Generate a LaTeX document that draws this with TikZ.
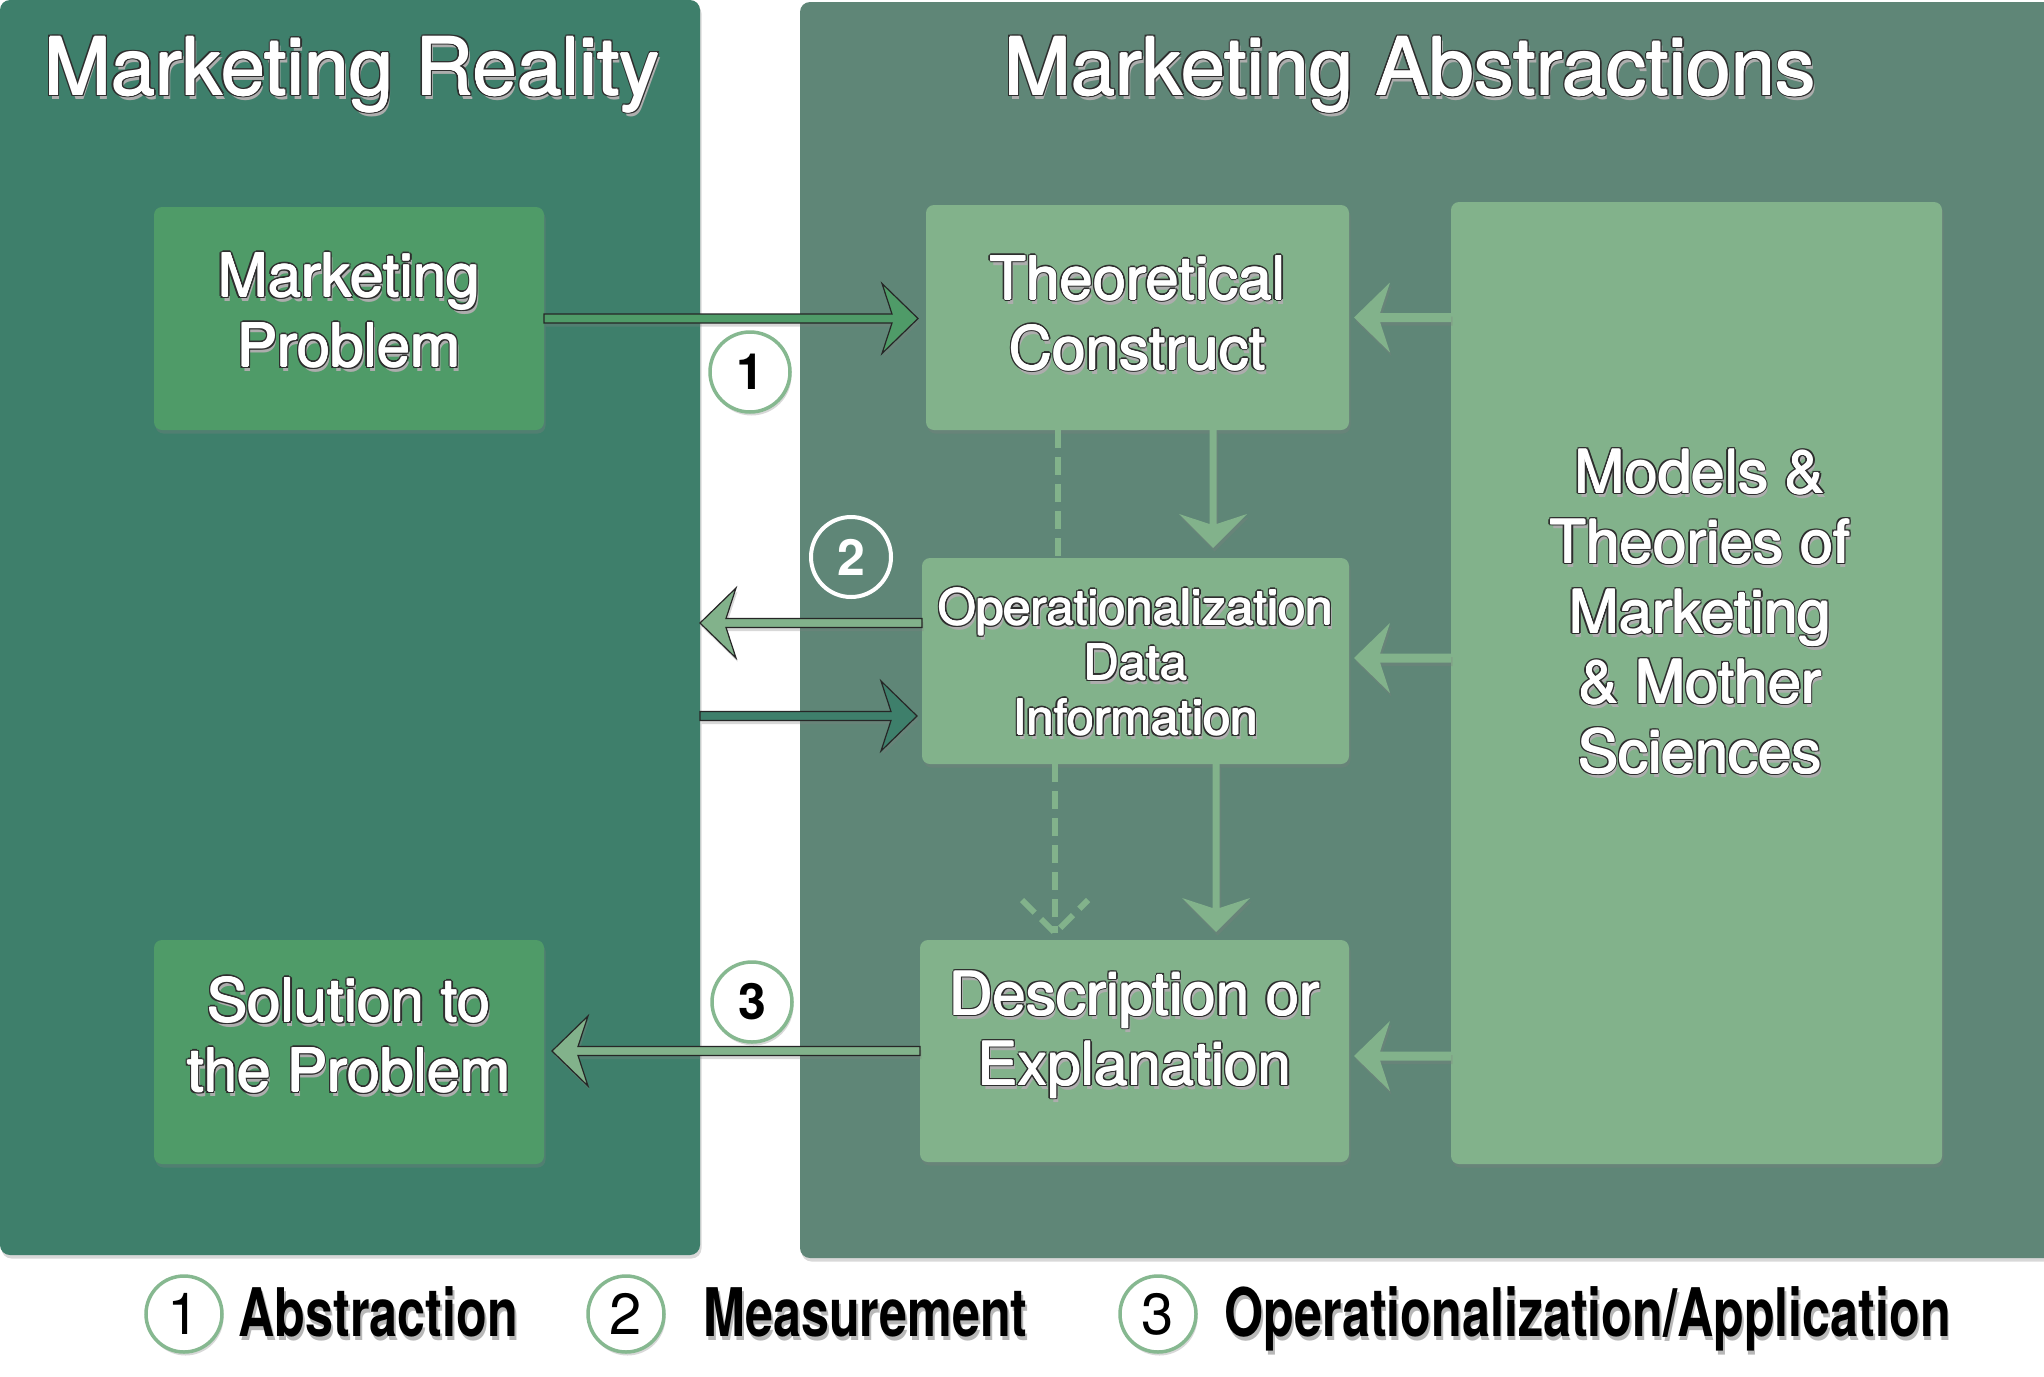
\documentclass[tikz,border=0pt]{standalone}
\usepackage{fontspec}
\usepackage{graphicx}
\setmainfont{TeX Gyre Heros}
\usetikzlibrary{calc,shadows}
\definecolor{leftpanel}{HTML}{3E7F6B}
\definecolor{rightpanel}{HTML}{5F8677}
\definecolor{darkbox}{HTML}{4F9B68}
\definecolor{lightbox}{HTML}{82B28B}
\definecolor{ringgreen}{HTML}{86B890}
\definecolor{txtline}{HTML}{2E2E2E}
% one offset copy of a text: #1 x, #2 y, #3 colour, #4 text
\newcommand\cpy[4]{\rlap{\kern#1\raisebox{#2}{\textcolor{#3}{#4}}}}
% white text, slightly emboldened, with dark outline and soft shadow
\newcommand\wt[1]{\leavevmode
 \cpy{2.5pt}{-4.5pt}{black!32}{#1}%
 \cpy{-2.1pt}{0pt}{txtline}{#1}\cpy{2.1pt}{0pt}{txtline}{#1}%
 \cpy{0pt}{1.9pt}{txtline}{#1}\cpy{0pt}{-1.9pt}{txtline}{#1}%
 \cpy{-1.6pt}{1.4pt}{txtline}{#1}\cpy{1.6pt}{1.4pt}{txtline}{#1}%
 \cpy{-1.6pt}{-1.4pt}{txtline}{#1}\cpy{1.6pt}{-1.4pt}{txtline}{#1}%
 \cpy{-0.7pt}{0pt}{white}{#1}\cpy{0.7pt}{0pt}{white}{#1}%
 \cpy{0pt}{0.5pt}{white}{#1}\cpy{0pt}{-0.5pt}{white}{#1}%
 \textcolor{white}{#1}}
% black legend text with shadow, condensed
\newcommand\lt[1]{\scalebox{0.75}[1]{\cpy{2.5pt}{-4pt}{black!28}{#1}\textcolor{black}{#1}}}
% fat arrows: #1 style, #2 start, #3 tip
\newcommand\fatR[3]{\path[#1] let \p1=#2, \p2=#3 in
 (\x1,\y1+4.5pt) -- (\x2-26pt,\y1+4.5pt) -- (\x2-36pt,\y1+35pt) -- (\x2,\y1)
 -- (\x2-36pt,\y1-35pt) -- (\x2-26pt,\y1-4.5pt) -- (\x1,\y1-4.5pt) -- cycle;}
\newcommand\fatL[3]{\path[#1] let \p1=#2, \p2=#3 in
 (\x1,\y1+4.5pt) -- (\x2+26pt,\y1+4.5pt) -- (\x2+36pt,\y1+35pt) -- (\x2,\y1)
 -- (\x2+36pt,\y1-35pt) -- (\x2+26pt,\y1-4.5pt) -- (\x1,\y1-4.5pt) -- cycle;}
\newcommand\fatD[3]{\path[#1] let \p1=#2, \p2=#3 in
 (\x1-3.5pt,\y1) -- (\x1-3.5pt,\y2+24pt) -- (\x1-34pt,\y2+34pt) -- (\x1,\y2)
 -- (\x1+34pt,\y2+34pt) -- (\x1+3.5pt,\y2+24pt) -- (\x1+3.5pt,\y1) -- cycle;}
\tikzset{
 softshadow/.style={drop shadow={shadow xshift=1.5pt, shadow yshift=-3.5pt, opacity=0.3}},
 panel/.style={rectangle, inner sep=0pt, outer sep=0pt, rounded corners=10pt, softshadow},
 dbox/.style={rectangle, inner sep=0pt, outer sep=0pt, rounded corners=8pt, fill=darkbox, softshadow},
 lbox/.style={rectangle, inner sep=0pt, outer sep=0pt, rounded corners=8pt, fill=lightbox, softshadow},
 btext/.style={align=center, font=\fontsize{60}{70}\selectfont},
 otext/.style={align=center, font=\fontsize{49}{55}\selectfont},
 ttext/.style={anchor=base, font=\fontsize{80}{90}\selectfont},
 outarrow/.style={fill=#1, draw=black!85, line width=1.2pt, line join=miter, softshadow},
 flatarrow/.style={fill=lightbox, softshadow},
 dashline/.style={draw=lightbox, line width=6pt, dash pattern=on 18pt off 9pt},
 ringW/.style={circle, minimum size=80pt, inner sep=0pt, fill=white, draw=ringgreen, line width=3.5pt, softshadow, font=\fontsize{50}{50}\selectfont\bfseries},
 ringT/.style={circle, minimum size=80pt, inner sep=0pt, draw=white, line width=4pt, text=white, font=\fontsize{50}{50}\selectfont\bfseries},
 ringL/.style={circle, minimum size=76pt, inner sep=0pt, fill=white, draw=ringgreen, line width=3.5pt, softshadow, font=\fontsize{58}{58}\selectfont},
 ltext/.style={anchor=base west, font=\fontsize{67}{70}\selectfont\bfseries},
}
\begin{document}
\begin{tikzpicture}[x=1pt, y=-1pt]
\path[use as bounding box, fill=white] (0,0) rectangle (2044,1376);
\begin{scope}
\clip (0,0) rectangle (2044,1376);
% panels
\node[panel, fill=leftpanel, minimum width=700pt, minimum height=1255pt] (left) at (350,627.5) {};
\node[panel, fill=rightpanel, minimum width=1254pt, minimum height=1256pt] (right) at (1427,630) {};
\end{scope}
% titles
\node[ttext] (titleL) at (352,95) {\wt{Marketing Reality}};
\node[ttext] (titleR) at (1410,95) {\wt{Marketing Abstractions}};
% boxes
\node[dbox, minimum width=390pt, minimum height=223pt] (mp) at (349,318.5) {};
\node[dbox, minimum width=390pt, minimum height=224pt] (sol) at (349,1052) {};
\node[lbox, minimum width=423pt, minimum height=225pt] (tc) at (1137.5,317.5) {};
\node[lbox, minimum width=427pt, minimum height=206pt] (op) at (1135.5,661) {};
\node[lbox, minimum width=429pt, minimum height=222pt] (desc) at (1134.5,1051) {};
\node[lbox, minimum width=491pt, minimum height=962pt] (models) at (1696.5,683) {};
% box texts
\node[btext] (mptx) at ([yshift=7pt]mp.center) {\wt{Marketing}\\\wt{Problem}};
\node[btext] (soltx) at ([yshift=16pt]sol.center) {\wt{Solution to}\\\wt{the Problem}};
\node[btext] (tctx) at ([yshift=3pt]tc.center) {\wt{Theoretical}\\\wt{Construct}};
\node[otext] (optx) at ([yshift=-2pt]op.center) {\wt{Operationalization}\\\wt{Data}\\\wt{Information}};
\node[btext] (desctx) at ([yshift=15pt]desc.center) {\wt{Description or}\\\wt{Explanation}};
\node[btext] (modtx) at (1700,613) {\wt{Models \&}\\\wt{Theories of}\\\wt{Marketing}\\\wt{\& Mother}\\\wt{Sciences}};
% dashed connectors
\coordinate (d1) at ([xshift=-79.5pt]tc.south);
\coordinate (d2) at ([xshift=-80.5pt]op.south);
\draw[dashline] (d1) -- (d1 |- op.north);
\draw[dashline] (d2) -- ([yshift=7pt]d2 |- desc.north);
\draw[dashline] let \p1=(d2), \p2=([yshift=7pt]d2 |- desc.north) in
  (\x1-33pt,\y2+33pt) -- (\x1,\y2) -- (\x1+33pt,\y2+33pt);
% vertical solid arrows
\fatD{flatarrow}{([xshift=75.5pt]tc.south)}{([yshift=10pt]op.north)}
\fatD{flatarrow}{([xshift=80.5pt]op.south)}{([yshift=8pt]desc.north)}
% arrows from models
\fatL{flatarrow}{(models.west |- tc.west)}{([xshift=5pt]tc.east)}
\coordinate (mo) at ([yshift=3pt]op.east);
\fatL{flatarrow}{(models.west |- mo)}{([xshift=5pt]mo)}
\coordinate (md) at ([yshift=-5pt]desc.east);
\fatL{flatarrow}{(models.west |- md)}{([xshift=5pt]md)}
% numbered arrows
\fatR{outarrow=darkbox}{(mp.east)}{([xshift=-8pt]tc.west)}
\fatL{outarrow=lightbox}{([yshift=38pt]op.west)}{(left.east)}
\coordinate (inpt) at ([yshift=-55pt]op.west);
\fatR{outarrow=leftpanel}{(left.east |- inpt)}{([xshift=-5pt]inpt)}
\fatL{outarrow=lightbox}{(desc.west)}{([xshift=8pt]sol.east)}
% step markers
\node[ringW] (c1) at (750,372) {1};
\node[ringT] (c2) at (851,557) {2};
\node[ringW] (c3) at (752,1002) {3};
% legend
\node[ringL] (l1) at (184,1314) {1};
\node[ltext] (l1t) at (235,1336) {\lt{Abstraction}};
\node[ringL] (l2) at (626,1314) {2};
\node[ltext] (l2t) at (700,1336) {\lt{Measurement}};
\node[ringL] (l3) at (1158,1314) {3};
\node[ltext] (l3t) at (1221,1336) {\lt{Operationalization/Application}};
\end{tikzpicture}
\end{document}
